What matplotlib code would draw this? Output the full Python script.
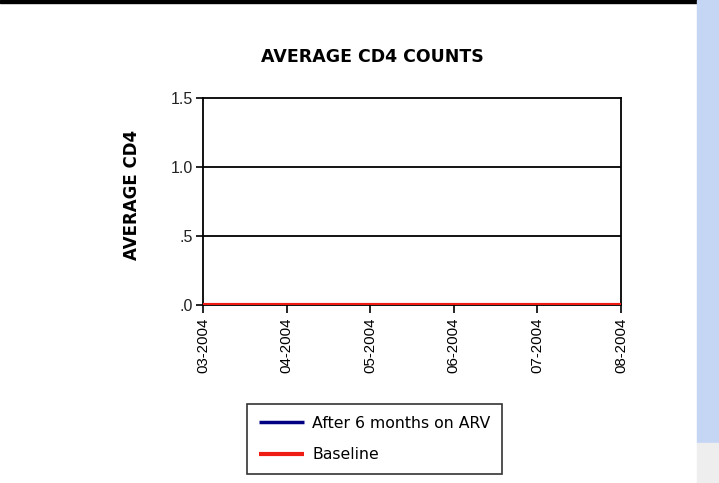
import matplotlib.pyplot as plt
from matplotlib.patches import Rectangle
from matplotlib.ticker import FuncFormatter

# values
months = ['03-2004', '04-2004', '05-2004', '06-2004', '07-2004', '08-2004']
after_6_months = [0, 0, 0, 0, 0, 0]
baseline = [0, 0, 0, 0, 0, 0]
y_ticks = [0.0, 0.5, 1.0, 1.5]

plt.rcParams['font.family'] = ['Liberation Sans', 'DejaVu Sans']

fig = plt.figure(figsize=(7.19, 4.83), dpi=100)
ax = fig.add_axes([0.2823, 0.3685, 0.5814, 0.4286])

ax.plot(months, after_6_months, color='#000080', lw=2.5, label='After 6 months on ARV',
        solid_capstyle='butt', zorder=3)
ax.plot(months, baseline, color='#ee1c12', lw=3, label='Baseline',
        solid_capstyle='butt', zorder=4)

ax.set_xlim(0, len(months) - 1)
ax.set_ylim(0, 1.5)
ax.set_yticks(y_ticks)
ax.yaxis.set_major_formatter(FuncFormatter(lambda v, p: ('%.1f' % v).lstrip('0')))
for v in y_ticks[1:-1]:
    ax.axhline(v, color='black', lw=1.3, zorder=1)

for s in ax.spines.values():
    s.set_color('black')
    s.set_linewidth(1.3)

ax.tick_params(axis='x', direction='out', length=6, width=1.2, labelrotation=90,
               labelsize=10.8, pad=3)
ax.tick_params(axis='y', direction='out', length=5, width=1.2, labelsize=11.5, pad=2)
for t in ax.get_yticklabels():
    t.set_color('#222222')

ax.set_ylabel('AVERAGE CD4', fontsize=12, fontweight='bold', family='DejaVu Sans')
ax.yaxis.set_label_coords(-0.148, 0.53)
fig.text(0.518, 0.881, 'AVERAGE CD4 COUNTS', ha='center', va='center',
         fontsize=12.5, fontweight='bold', family='DejaVu Sans')

leg = fig.legend(loc='center', bbox_to_anchor=(0.521, 0.091),
                 prop={'family': 'DejaVu Sans', 'size': 11.3},
                 frameon=True, fancybox=False, edgecolor='black', handlelength=2.9,
                 borderpad=0.75, labelspacing=1.05, handletextpad=0.5, borderaxespad=0)
leg.get_frame().set_linewidth(1.2)

# screenshot surroundings: black top edge and scrollbar strip
fig.patches.append(Rectangle((0, 0.994), 0.97, 0.006, transform=fig.transFigure,
                             color='black', zorder=0))
fig.patches.append(Rectangle((0.969, 0.083), 0.031, 0.917, transform=fig.transFigure,
                             color='#c5d6f5', zorder=0))
fig.patches.append(Rectangle((0.969, 0.0), 0.031, 0.083, transform=fig.transFigure,
                             color='#eeeeee', zorder=0))

fig.savefig('out.png', dpi=100)
